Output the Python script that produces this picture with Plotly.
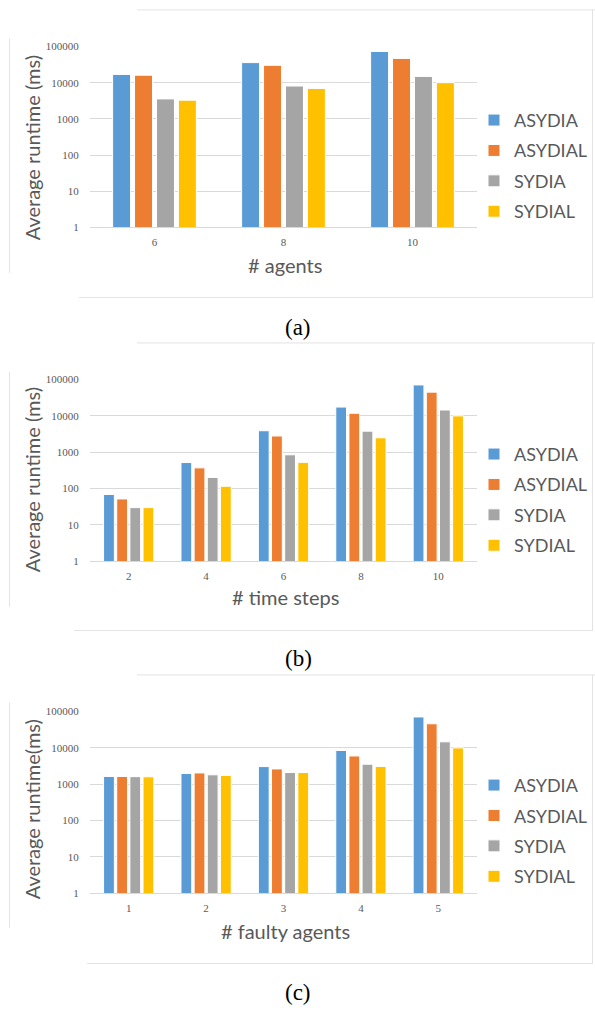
import plotly.graph_objects as go

W, H = 595, 1012

series_names = ["ASYDIA", "ASYDIAL", "SYDIA", "SYDIAL"]
colors = ["#5B9BD5", "#ED7D31", "#A5A5A5", "#FFC000"]

# Panel (a): # agents
agents = ["6", "8", "10"]
a_asydia = [16900, 35900, 73000]
a_asydial = [16100, 30200, 46900]
a_sydia = [3560, 8080, 14900]
a_sydial = [3280, 6930, 10000]

# Panel (b): # time steps
steps = ["2", "4", "6", "8", "10"]
b_asydia = [69, 521, 3900, 17500, 71000]
b_asydial = [52, 372, 2800, 11800, 45000]
b_sydia = [30, 203, 850, 3800, 14500]
b_sydial = [30, 116, 527, 2500, 10000]

# Panel (c): # faulty agents
faulty = ["1", "2", "3", "4", "5"]
c_asydia = [1640, 1980, 3060, 8500, 71000]
c_asydial = [1640, 2050, 2640, 6000, 46000]
c_sydia = [1620, 1820, 2100, 3560, 14700]
c_sydial = [1600, 1750, 2100, 3100, 10000]

y_tickvals = [1, 10, 100, 1000, 10000, 100000]
y_ticktext = ["1", "10", "100", "1000", "10000", "100000"]

panels = [
    dict(cats=agents, data=[a_asydia, a_asydial, a_sydia, a_sydial],
         xtitle="# agents", ytitle="Average runtime (ms)", caption="(a)",
         top=41, bottom=224, frame=(4, 295), lefttop=33, leftbot=270,
         topx=137, botx=79, xt_y=262, yt_y=144, cap_y=325, leg_y=112),
    dict(cats=steps, data=[b_asydia, b_asydial, b_sydia, b_sydial],
         xtitle="# time steps", ytitle="Average runtime (ms)", caption="(b)",
         top=378, bottom=562, frame=(341, 632), lefttop=370, leftbot=608,
         topx=137, botx=74, xt_y=598, yt_y=480, cap_y=660, leg_y=450),
    dict(cats=faulty, data=[c_asydia, c_asydial, c_sydia, c_sydial],
         xtitle="# faulty agents", ytitle="Average runtime(ms)", caption="(c)",
         top=714, bottom=898, frame=(677, 969), lefttop=705, leftbot=933,
         topx=137, botx=87, xt_y=936, yt_y=813, cap_y=998, leg_y=785),
]

def px_x(x):
    return x / W

def px_y(y):
    return 1 - y / H

fig = go.Figure()
gray_txt = "#595959"
grid = "#D9D9D9"
tick_font = dict(family="Liberation Serif", size=11, color=gray_txt)

annotations = []
shapes = []
layout_extra = {}

for i, p in enumerate(panels):
    k = "" if i == 0 else str(i + 1)
    leg = "legend" if i == 0 else f"legend{i + 1}"
    for name, vals, col in zip(series_names, p["data"], colors):
        fig.add_trace(go.Bar(
            x=p["cats"], y=vals, name=name,
            marker=dict(color=col, line=dict(color="white", width=1)),
            xaxis="x" + k, yaxis="y" + k, legend=leg,
            legendgroup=f"{leg}-{name}",
        ))
    layout_extra["xaxis" + k] = dict(
        domain=[px_x(90), px_x(477)], anchor="y" + k,
        showgrid=False, showline=True, linecolor=grid, linewidth=1,
        ticks="outside", ticklen=4, tickcolor="rgba(0,0,0,0)",
        tickfont=tick_font, zeroline=False, fixedrange=True,
    )
    layout_extra["yaxis" + k] = dict(
        domain=[px_y(p["bottom"]), px_y(p["top"])], anchor="x" + k,
        type="log", range=[0, 5], tickmode="array",
        tickvals=y_tickvals, ticktext=y_ticktext,
        showgrid=True, gridcolor=grid, gridwidth=1,
        showline=False, zeroline=False,
        ticks="outside", ticklen=8, tickcolor="rgba(0,0,0,0)",
        tickfont=tick_font, fixedrange=True,
    )
    layout_extra[leg] = dict(
        x=px_x(474), xanchor="left", y=px_y(p["leg_y"] - 15), yanchor="top",
        font=dict(family="Lato", size=18, color=gray_txt),
        bgcolor="rgba(0,0,0,0)", traceorder="grouped", tracegroupgap=4,
        itemclick=False,
    )
    # axis titles and caption
    annotations.append(dict(
        text=p["xtitle"], x=px_x(285), y=px_y(p["xt_y"]), xref="paper", yref="paper",
        xanchor="center", yanchor="middle", showarrow=False,
        font=dict(family="Lato", size=20, color=gray_txt)))
    annotations.append(dict(
        text=p["ytitle"], x=px_x(32), y=px_y(p["yt_y"]), xref="paper", yref="paper",
        xanchor="center", yanchor="middle", showarrow=False, textangle=-90,
        font=dict(family="Lato", size=20, color=gray_txt)))
    annotations.append(dict(
        text=p["caption"], x=px_x(298), y=px_y(p["cap_y"]), xref="paper", yref="paper",
        xanchor="center", yanchor="middle", showarrow=False,
        font=dict(family="Liberation Serif", size=23, color="black")))
    # chart frame lines (decorative)
    ft, fb = p["frame"]
    line = dict(color="#E3E3E3", width=1)
    shapes.append(dict(type="line", xref="paper", yref="paper", x0=px_x(p["topx"]), x1=1,
                       y0=px_y(ft), y1=px_y(ft), line=line))
    shapes.append(dict(type="line", xref="paper", yref="paper", x0=px_x(p["botx"]), x1=px_x(593),
                       y0=px_y(fb), y1=px_y(fb), line=line))
    shapes.append(dict(type="line", xref="paper", yref="paper", x0=px_x(9.5), x1=px_x(9.5),
                       y0=px_y(p["lefttop"]), y1=px_y(p["leftbot"]), line=line))
    shapes.append(dict(type="line", xref="paper", yref="paper", x0=px_x(592.5), x1=px_x(592.5),
                       y0=px_y(ft), y1=px_y(fb), line=line))

fig.update_layout(
    width=W, height=H, margin=dict(l=0, r=0, t=0, b=0),
    paper_bgcolor="white", plot_bgcolor="white",
    barmode="group", bargap=0.32, bargroupgap=0.18,
    showlegend=True, annotations=annotations, shapes=shapes,
    **layout_extra,
)

fig.write_html("out.html", config={"displayModeBar": False},
               post_script="document.body.style.margin='0';")
